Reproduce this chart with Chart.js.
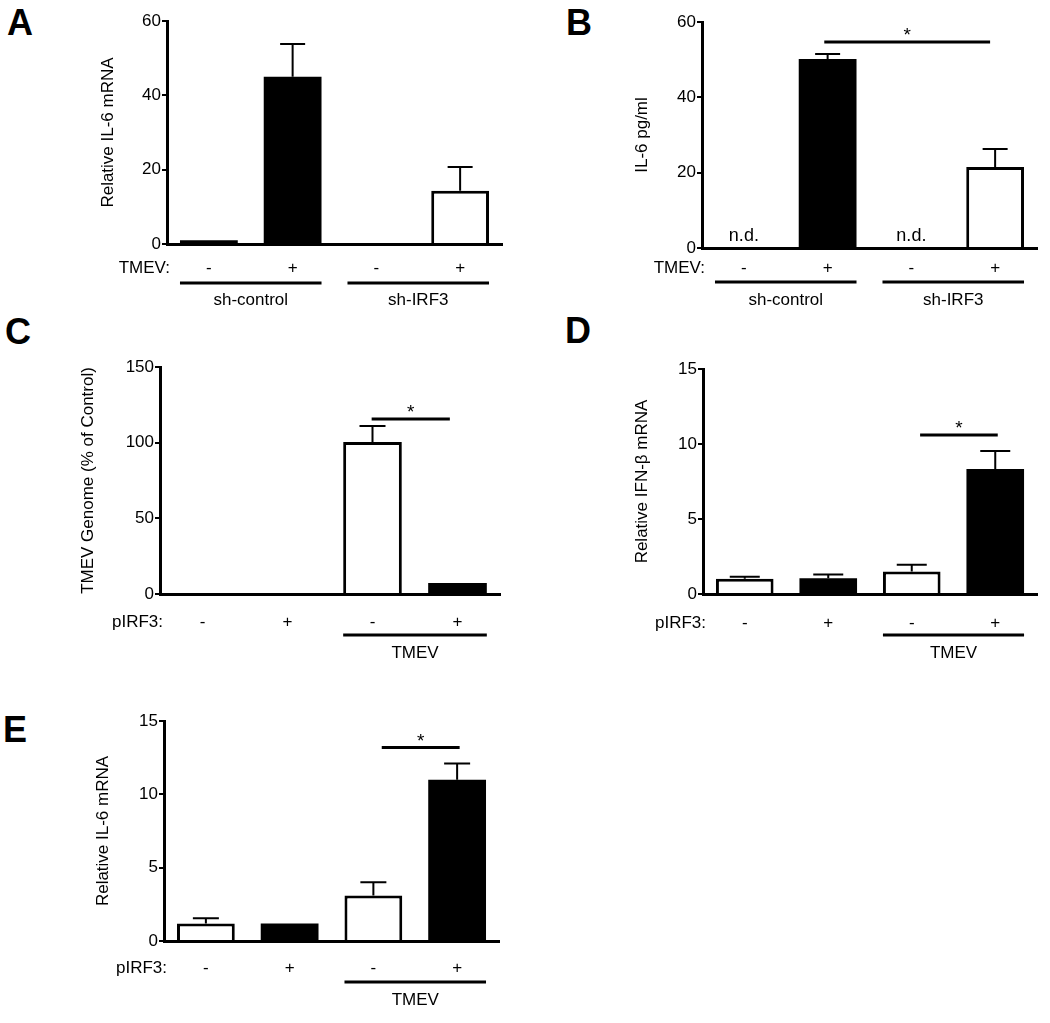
<!DOCTYPE html>
<html>
<head>
<meta charset="utf-8">
<script src="https://cdn.jsdelivr.net/npm/chart.js@4.4.1/dist/chart.umd.min.js"></script>
<style>
  body { margin: 0; background: #fff; width: 1050px; height: 1023px; position: relative; overflow: hidden;
         font-family: 'Liberation Sans', Arial, sans-serif; }
  canvas { position: absolute; }
  .letter { position: absolute; font-size: 36px; line-height: 36px; font-weight: bold; color: #000; }
</style>
</head>
<body>
<div class="letter" style="left:7px;top:5px">A</div>
<div class="letter" style="left:566px;top:5px">B</div>
<div class="letter" style="left:5px;top:314px">C</div>
<div class="letter" style="left:565px;top:313px">D</div>
<div class="letter" style="left:3px;top:712px">E</div>

<canvas id="chartA" width="525" height="320" style="left:0;top:0"></canvas>
<canvas id="chartB" width="525" height="320" style="left:525px;top:0"></canvas>
<canvas id="chartC" width="525" height="370" style="left:0;top:320px"></canvas>
<canvas id="chartD" width="525" height="370" style="left:525px;top:320px"></canvas>
<canvas id="chartE" width="525" height="333" style="left:0;top:690px"></canvas>

<script>
// tick labels under each bar
const tmevSigns = ['-', '+', '-', '+'];

// A - relative IL-6 mRNA, sh-control vs sh-IRF3
const valsA = [1.0, 45.0, 0, 14.3];
const semA = [0, 8.8, 0, 6.4];
const fillA = ['#000', '#000', '#fff', '#fff'];
const groupsA = [{ label: 'sh-control', from: 0, to: 1 }, { label: 'sh-IRF3', from: 2, to: 3 }];

// B - IL-6 pg/ml (null = n.d.)
const valsB = [null, 50.2, null, 21.5];
const semB = [0, 1.3, 0, 4.8];
const fillB = ['#000', '#000', '#fff', '#fff'];
const groupsB = [{ label: 'sh-control', from: 0, to: 1 }, { label: 'sh-IRF3', from: 2, to: 3 }];
const sigB = [{ from: 0.96, to: 2.94, y: 54.7 }];

// C - TMEV genome (% of control)
const valsC = [0, 0, 100.4, 7.3];
const semC = [0, 0, 10.6, 0];
const fillC = ['#fff', '#000', '#fff', '#000'];
const groupsC = [{ label: 'TMEV', from: 2, to: 3 }];
const sigC = [{ from: 1.99, to: 2.91, y: 115.6 }];

// D - relative IFN-beta mRNA
const valsD = [1.02, 1.05, 1.5, 8.33];
const semD = [0.13, 0.25, 0.45, 1.2];
const fillD = ['#fff', '#000', '#fff', '#000'];
const groupsD = [{ label: 'TMEV', from: 2, to: 3 }];
const sigD = [{ from: 2.1, to: 3.03, y: 10.6 }];

// E - relative IL-6 mRNA
const valsE = [1.2, 1.2, 3.1, 11.0];
const semE = [0.35, 0, 0.9, 1.1];
const fillE = ['#fff', '#000', '#fff', '#000'];
const groupsE = [{ label: 'TMEV', from: 2, to: 3 }];
const sigE = [{ from: 2.1, to: 3.03, y: 13.2 }];

const FONT = "'Liberation Sans', Arial, sans-serif";
const BAR_PCT = 0.69;
Chart.defaults.font.family = FONT;
Chart.defaults.color = '#000';

function drawExtras(chart, cfg) {
    const ctx = chart.ctx;
    const ca = chart.chartArea;
    const xs = chart.scales.x;
    const ys = chart.scales.y;
    const half = (xs.getPixelForValue(1) - xs.getPixelForValue(0)) * BAR_PCT / 2;

    ctx.save();
    ctx.strokeStyle = '#000';
    ctx.fillStyle = '#000';

    // error bars (upper only)
    cfg.values.forEach((v, i) => {
        const e = cfg.sem[i];
        if (v == null || !e) return;
        const px = xs.getPixelForValue(i);
        const y0 = ys.getPixelForValue(v);
        const y1 = ys.getPixelForValue(v + e);
        ctx.lineWidth = 2;
        ctx.beginPath();
        ctx.moveTo(px, y0);
        ctx.lineTo(px, y1);
        ctx.moveTo(px - cfg.cap / 2, y1);
        ctx.lineTo(px + cfg.cap / 2, y1);
        ctx.stroke();
    });

    // n.d. markers
    ctx.font = '18px ' + FONT;
    ctx.textAlign = 'center';
    ctx.textBaseline = 'middle';
    if (cfg.nd) {
        cfg.values.forEach((v, i) => {
            if (v == null) ctx.fillText('n.d.', xs.getPixelForValue(i), ca.bottom - 12);
        });
    }

    // row label left of the signs
    ctx.font = '17px ' + FONT;
    ctx.textAlign = 'right';
    ctx.fillText(cfg.rowLabel, ca.left + 3, ca.bottom + cfg.rowDy);

    // group brackets
    ctx.textAlign = 'center';
    cfg.groups.forEach(g => {
        const x0 = xs.getPixelForValue(g.from) - half;
        const x1 = xs.getPixelForValue(g.to) + half;
        const ly = ca.bottom + cfg.lineDy;
        ctx.lineWidth = 3;
        ctx.beginPath();
        ctx.moveTo(x0, ly);
        ctx.lineTo(x1, ly);
        ctx.stroke();
        ctx.fillText(g.label, (x0 + x1) / 2, ca.bottom + cfg.textDy);
    });

    // significance bars
    (cfg.sig || []).forEach(s => {
        const x0 = xs.getPixelForValue(s.from);
        const x1 = xs.getPixelForValue(s.to);
        const sy = ys.getPixelForValue(s.y);
        ctx.lineWidth = 3;
        ctx.beginPath();
        ctx.moveTo(x0, sy);
        ctx.lineTo(x1, sy);
        ctx.stroke();
        ctx.font = '19px ' + FONT;
        ctx.fillText('*', (x0 + x1) / 2, sy - 6);
    });
    ctx.restore();
}

function makePanel(id, cfg) {
    const el = document.getElementById(id);
    const W = el.width, H = el.height;
    const a = cfg.area;
    const padLeft = cfg.titleX - 10.2;

    return new Chart(el, {
        type: 'bar',
        data: {
            labels: tmevSigns,
            datasets: [{
                data: cfg.values,
                backgroundColor: cfg.fills,
                borderColor: '#000',
                // solid bars need no outline, open bars get a thick one
                borderWidth: cfg.fills.map(f => f === '#000' ? 0 : 3),
                borderSkipped: 'start',
                barPercentage: BAR_PCT,
                categoryPercentage: 1
            }]
        },
        options: {
            responsive: false,
            animation: false,
            devicePixelRatio: 1,
            layout: { padding: { left: padLeft, top: a[1], right: W - a[2], bottom: 0 } },
            plugins: { legend: { display: false }, tooltip: { enabled: false } },
            scales: {
                x: {
                    grid: { display: false, drawTicks: false },
                    border: { display: true, color: '#000', width: 3 },
                    ticks: { color: '#000', font: { size: 17 }, padding: cfg.rowDy - 10 },
                    afterFit: s => { s.height = H - a[3]; }
                },
                y: {
                    min: 0,
                    max: cfg.max,
                    grid: { display: true, drawOnChartArea: false, drawTicks: true, tickLength: 5, color: '#000', lineWidth: 2 },
                    border: { display: true, color: '#000', width: 3 },
                    ticks: { stepSize: cfg.step, color: '#000', font: { size: 17 }, padding: 1 },
                    title: { display: true, text: cfg.title, color: '#000', font: { size: 17 }, padding: 0 },
                    afterFit: s => { s.width = a[0] - padLeft; }
                }
            }
        },
        plugins: [{ id: 'extras', afterDraw: chart => drawExtras(chart, cfg) }]
    });
}

makePanel('chartA', {
    values: valsA, sem: semA, fills: fillA, groups: groupsA, rowLabel: 'TMEV:',
    title: 'Relative IL-6 mRNA', max: 60, step: 20,
    area: [167, 21, 502, 244], titleX: 108, rowDy: 24, lineDy: 39, textDy: 56, cap: 25
});
makePanel('chartB', {
    values: valsB, sem: semB, fills: fillB, groups: groupsB, sig: sigB, nd: true, rowLabel: 'TMEV:',
    title: 'IL-6 pg/ml', max: 60, step: 20,
    area: [177, 22, 512, 248], titleX: 117, rowDy: 20, lineDy: 34, textDy: 52, cap: 25
});
makePanel('chartC', {
    values: valsC, sem: semC, fills: fillC, groups: groupsC, sig: sigC, rowLabel: 'pIRF3:',
    title: 'TMEV Genome (% of Control)', max: 150, step: 50,
    area: [160, 47, 500, 274], titleX: 88, rowDy: 28, lineDy: 41, textDy: 59, cap: 26
});
makePanel('chartD', {
    values: valsD, sem: semD, fills: fillD, groups: groupsD, sig: sigD, rowLabel: 'pIRF3:',
    title: 'Relative IFN-β mRNA', max: 15, step: 5,
    area: [178, 49, 512, 274], titleX: 117, rowDy: 29, lineDy: 41, textDy: 59, cap: 30
});
makePanel('chartE', {
    values: valsE, sem: semE, fills: fillE, groups: groupsE, sig: sigE, rowLabel: 'pIRF3:',
    title: 'Relative IL-6 mRNA', max: 15, step: 5,
    area: [164, 31, 499, 251], titleX: 103, rowDy: 27, lineDy: 41, textDy: 59, cap: 26
});
</script>
</body>
</html>
